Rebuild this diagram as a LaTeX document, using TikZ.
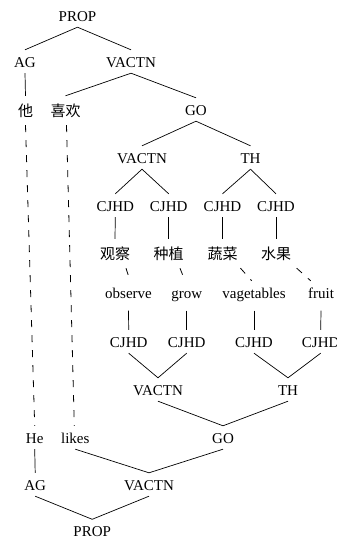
\documentclass[tikz,border=0pt]{standalone}
\usepackage{fontspec}
\setmainfont{Liberation Serif}
\newfontfamily\lsfont{Liberation Serif}
\newfontfamily\zhfont{Noto Sans CJK SC}
\begin{document}
\begin{tikzpicture}[x=1pt,y=-1pt,
  lab/.style={anchor=base,inner sep=0pt,text height=17pt,text depth=6pt,
    font=\lsfont\fontsize{15}{18}\selectfont},
  zh/.style={lab,text height=20pt,text depth=9pt,font=\zhfont\fontsize{15}{18}\selectfont},
  en/.style={lab,text depth=12.5pt},
  edge/.style={line width=0.7pt},
  link/.style={line width=0.8pt,dash pattern=on 7pt off 8pt}]
\useasboundingbox (0,0) rectangle (337,541);
\clip (0,0) rectangle (337,541);

% Chinese parse (top)
\node[lab] (p1)  at (77.5,21)  {PROP};
\node[lab] (ag1) at (25,67)    {AG};
\node[lab] (va1) at (131,67)   {VACTN};
\node[zh]  (ta)  at (25.5,116) {他};
\node[zh]  (xh)  at (65.5,116) {喜欢};
\node[lab] (go1) at (196,115)  {GO};
\node[lab] (va2) at (142,163)  {VACTN};
\node[lab] (th1) at (250.5,163){TH};
\node[lab] (c1)  at (115.3,211){CJHD};
\node[lab] (c2)  at (168.7,211){CJHD};
\node[lab] (c3)  at (222.5,211){CJHD};
\node[lab] (c4)  at (276,211)  {CJHD};
\node[zh]  (z1)  at (115,259)  {观察};
\node[zh]  (z2)  at (168.7,259){种植};
\node[zh]  (z3)  at (222.5,259){蔬菜};
\node[zh]  (z4)  at (276,259)  {水果};

% English parse (bottom)
\node[en]  (e1)  at (128.5,298){observe};
\node[en]  (e2)  at (186.7,298){grow};
\node[en]  (e3)  at (254,298)  {vagetables};
\node[en]  (e4)  at (321,298)  {fruit};
\node[lab] (d1)  at (128.7,347){CJHD};
\node[lab] (d2)  at (186.7,347){CJHD};
\node[lab] (d3)  at (254,347)  {CJHD};
\node[lab] (d4)  at (320.7,347){CJHD};
\node[lab] (va3) at (158,395)  {VACTN};
\node[lab] (th2) at (288,395)  {TH};
\node[lab] (go2) at (223,443)  {GO};
\node[lab] (he)  at (34.7,443) {He};
\node[lab] (lk)  at (75.3,443) {likes};
\node[lab] (ag2) at (35.2,490) {AG};
\node[lab] (va4) at (149,490)  {VACTN};
\node[lab] (p2)  at (92.2,536.5){PROP};

% top tree branches
\draw[edge] (p1.south) -- (ag1.north);
\draw[edge] (p1.south) -- (va1.north);
\draw[edge] (ag1.south) -- (ta.north);
\draw[edge] (va1.south) -- (xh.north);
\draw[edge] (va1.south) -- (go1.north);
\draw[edge] (go1.south) -- (va2.north);
\draw[edge] (go1.south) -- (th1.north);
\draw[edge] (va2.south) -- (c1.north);
\draw[edge] (va2.south) -- (c2.north);
\draw[edge] (th1.south) -- (c3.north);
\draw[edge] (th1.south) -- (c4.north);
\foreach \i in {1,...,4} \draw[edge] (c\i.south) -- (z\i.north);

% bottom tree branches
\foreach \i in {1,...,4} \draw[edge] (e\i.south) -- (d\i.north);
\draw[edge] (d1.south) -- (va3.north);
\draw[edge] (d2.south) -- (va3.north);
\draw[edge] (d3.south) -- (th2.north);
\draw[edge] (d4.south) -- (th2.north);
\draw[edge] (va3.south) -- (go2.north);
\draw[edge] (th2.south) -- (go2.north);
\draw[edge] (go2.south) -- (va4.north);
\draw[edge] (lk.south) -- (va4.north);
\draw[edge] (he.south) -- (ag2.north);
\draw[edge] (ag2.south) -- (p2.north);
\draw[edge] (va4.south) -- (p2.north);

% word alignments
\draw[link] (ta.south) -- (he.north);
\draw[link] ([xshift=1pt]xh.south) -- ([xshift=-1pt]lk.north);
\draw[link] ([xshift=11pt]z1.south) -- ([xshift=1.5pt]e1.north);
\draw[link] ([xshift=11.3pt]z2.south) -- ([xshift=-1.7pt]e2.north);
\draw[link] ([xshift=18pt]z3.south) -- ([xshift=-2.3pt]e3.north);
\draw[link] ([xshift=20.7pt]z4.south) -- ([xshift=-10.3pt]e4.north);
\end{tikzpicture}
\end{document}
